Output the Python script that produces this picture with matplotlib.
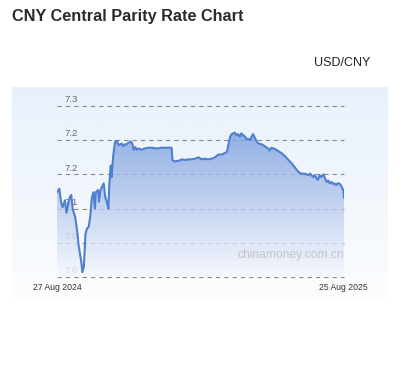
import numpy as np
import pandas as pd
import matplotlib
matplotlib.use("Agg")
import matplotlib.pyplot as plt
import matplotlib.dates as mdates

plt.rcParams['font.family'] = ['Liberation Sans', 'DejaVu Sans']

# 1. Data (days after 27 Aug 2024, USD/CNY central parity)
start_date = "2024-08-27"
end_date = "2025-08-25"
day_offset = [0, 3, 5, 7, 10, 12, 14, 16, 18, 20, 21, 23, 26, 27, 29, 31, 32, 34, 36, 38,
              40, 42, 44, 46, 48, 49, 52, 53, 55, 57, 59, 61, 63, 65, 66, 68, 69, 71, 73, 74,
              76, 78, 80, 82, 84, 86, 88, 90, 93, 95, 97, 99, 101, 103, 107, 111, 116, 120, 124, 128,
              132, 137, 141, 145, 146, 149, 154, 158, 162, 166, 170, 175, 179, 183, 187, 191, 196, 200, 204, 208,
              212, 215, 217, 219, 221, 223, 225, 227, 229, 231, 233, 236, 238, 240, 242, 244, 246, 248, 250, 252,
              255, 259, 263, 267, 269, 271, 276, 280, 284, 288, 292, 297, 301, 305, 309, 313, 318, 320, 322, 324,
              326, 328, 330, 332, 334, 337, 339, 341, 343, 345, 347, 349, 351, 353, 355, 358, 360, 362, 363]
rate = [7.124, 7.129, 7.110, 7.102, 7.112, 7.094, 7.105, 7.116, 7.120, 7.098, 7.095, 7.088, 7.063, 7.049, 7.034, 7.020, 7.007, 7.015, 7.063, 7.071,
        7.073, 7.088, 7.115, 7.124, 7.100, 7.124, 7.127, 7.110, 7.127, 7.132, 7.137, 7.117, 7.110, 7.100, 7.132, 7.163, 7.146, 7.176, 7.195, 7.199,
        7.198, 7.193, 7.194, 7.195, 7.191, 7.194, 7.194, 7.196, 7.198, 7.196, 7.186, 7.190, 7.186, 7.188, 7.186, 7.188, 7.189, 7.189, 7.188, 7.188,
        7.189, 7.189, 7.189, 7.189, 7.171, 7.169, 7.170, 7.172, 7.171, 7.172, 7.172, 7.173, 7.175, 7.172, 7.173, 7.172, 7.173, 7.175, 7.179, 7.179,
        7.181, 7.183, 7.195, 7.205, 7.209, 7.210, 7.211, 7.207, 7.209, 7.205, 7.210, 7.207, 7.205, 7.201, 7.202, 7.200, 7.205, 7.209, 7.204, 7.199,
        7.195, 7.194, 7.191, 7.188, 7.185, 7.189, 7.187, 7.184, 7.181, 7.177, 7.172, 7.166, 7.160, 7.154, 7.151, 7.151, 7.149, 7.151, 7.149, 7.146,
        7.149, 7.145, 7.142, 7.149, 7.146, 7.150, 7.144, 7.139, 7.141, 7.137, 7.139, 7.136, 7.137, 7.134, 7.137, 7.136, 7.132, 7.127, 7.116]

y_ticks = [7.25, 7.20, 7.15, 7.10, 7.05, 7.00]
y_tick_labels = ["7.3", "7.2", "7.2", "7.1", "7.0", "7.0"]
x_labels = ["27 Aug 2024", "25 Aug 2025"]

dates = pd.to_datetime(start_date) + pd.to_timedelta(day_offset, unit="D")
x = mdates.date2num(dates)
x0 = mdates.date2num(pd.to_datetime(start_date))
x1 = mdates.date2num(pd.to_datetime(end_date))

W, H = 405, 378
fig = plt.figure(figsize=(W / 100, H / 100), dpi=100)
fig.patch.set_facecolor("white")

# 2. Light blue panel behind the chart
bg = fig.add_axes([12 / W, 1 - 298 / H, 376 / W, 211 / H])
grad = np.linspace(0, 1, 256).reshape(-1, 1)
top_c = np.array([0.91, 0.945, 0.985])
bot_c = np.array([0.985, 0.99, 0.995])
bg_img = top_c + (bot_c - top_c) * grad[:, :, None]
bg.imshow(bg_img, aspect="auto", extent=[0, 1, 0, 1])
bg.axis("off")

# 3. Main plot
ax = fig.add_axes([57 / W, 1 - 277 / H, 287 / W, 171 / H])
ax.set_facecolor("none")
ax.set_xlim(x0, x1)
ax.set_ylim(7.0, 7.25)
for s in ax.spines.values():
    s.set_visible(False)
ax.set_xticks([])
ax.set_yticks([])

for yv, lab in zip(y_ticks, y_tick_labels):
    ax.axhline(yv, color="#8a8a8a", lw=0.8, ls=(0, (4, 3.5)), zorder=1, clip_on=False)
    ax.text(x0 + 9, yv + 0.0025, lab, fontsize=6.8, color="#666666", ha="left", va="bottom", zorder=1)

# gradient fill under the line
fill = ax.fill_between(x, rate, 7.0, color="none", lw=0)
g = np.linspace(1, 0, 256).reshape(-1, 1)
c_top = np.array([0.40, 0.56, 0.85])
c_bot = np.array([0.96, 0.97, 0.995])
fill_img = c_bot + (c_top - c_bot) * g[:, :, None]
im = ax.imshow(fill_img, aspect="auto", extent=[x0, x1, 7.0, 7.25], zorder=2, alpha=0.8)
im.set_clip_path(fill.get_paths()[0], transform=ax.transData)
ax.set_xlim(x0, x1)
ax.set_ylim(7.0, 7.25)

ax.plot(x, rate, color="#4f7fd0", lw=1.5, zorder=3, solid_joinstyle="round")

ax.text(x1, 7.032, "chinamoney.com.cn", fontsize=8.7, color="#c4c4c4", ha="right", va="center", zorder=4)

# 4. Texts around the chart
fig.text(12 / W, 1 - 17 / H, "CNY Central Parity Rate Chart", fontsize=11.7, fontweight="bold",
         color="#2b2b2b", ha="left", va="center")
fig.text(370 / W, 1 - 63 / H, "USD/CNY", fontsize=9, color="#222222", ha="right", va="center")
fig.text(33 / W, 1 - 288 / H, x_labels[0], fontsize=6.2, color="#333333", ha="left", va="center")
fig.text(368 / W, 1 - 288 / H, x_labels[1], fontsize=6.2, color="#333333", ha="right", va="center")

plt.savefig("out.png", dpi=100)
